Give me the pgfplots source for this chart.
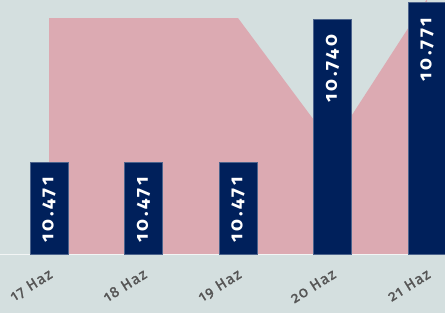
\documentclass[border=0pt]{standalone}
\usepackage{fontspec}
\setmainfont{Fira Sans}[Numbers=OldStyle]
\newfontfamily\barfont{Fira Sans}[Numbers=OldStyle, LetterSpace=14]
\newfontfamily\tickfont{Fira Sans}[Numbers=OldStyle, LetterSpace=8, FakeBold=1.2]
\usepackage{pgfplots}
\pgfplotsset{compat=1.18}
\definecolor{bgc}{HTML}{D4DFDF}
\definecolor{pinkc}{HTML}{DCAAB2}
\definecolor{navyc}{HTML}{00205B}
\definecolor{tickc}{HTML}{555555}
\tikzset{tlab/.style={rotate=32, anchor=north east, text=tickc, font=\tickfont\fontsize{15}{16}\selectfont, inner sep=0pt}}
\begin{document}
\begin{tikzpicture}
\useasboundingbox (0,0) rectangle (445bp,313bp);
\fill[bgc] (0,0) rectangle (445bp,313bp);
\begin{axis}[
  at={(0,59bp)}, anchor=south west,
  width=445bp, height=254bp, scale only axis,
  xmin=-0.5185, xmax=4.19,
  ymin=10.298, ymax=10.776,
  axis lines=none,
  clip=false,
]
\addplot[fill=pinkc, draw=none] coordinates {(0,10.742) (1,10.742) (2,10.742) (3,10.503) (4,10.778) (4,10.298) (0,10.298)} -- cycle;
\draw[white!70!bgc, line width=0.6bp] (axis cs:-0.5185,10.298) -- (axis cs:4.19,10.298);
\addplot[ybar, bar width=38bp, fill=navyc, draw=navyc!70!white, line width=0.4bp,
  point meta=explicit symbolic,
  nodes near coords,
  every node near coord/.append style={rotate=90, anchor=east, text=white, font=\barfont\bfseries\fontsize{19}{20}\selectfont, inner sep=0pt, xshift=-15bp}]
  coordinates {(0,10.471)[10.471] (1,10.471)[10.471] (2,10.471)[10.471] (3,10.740)[10.740] (4,10.771)[10.771]};
\node[tlab] at ([xshift=-1bp,yshift=-14bp]axis cs:0,10.298) {17 Haz};
\node[tlab] at ([xshift=-1bp,yshift=-14bp]axis cs:1,10.298) {18 Haz};
\node[tlab] at ([xshift=-1bp,yshift=-14bp]axis cs:2,10.298) {19 Haz};
\node[tlab] at ([xshift=-1bp,yshift=-14bp]axis cs:3,10.298) {20 Haz};
\node[tlab] at ([xshift=-1bp,yshift=-14bp]axis cs:4,10.298) {21 Haz};
\end{axis}
\end{tikzpicture}
\end{document}
